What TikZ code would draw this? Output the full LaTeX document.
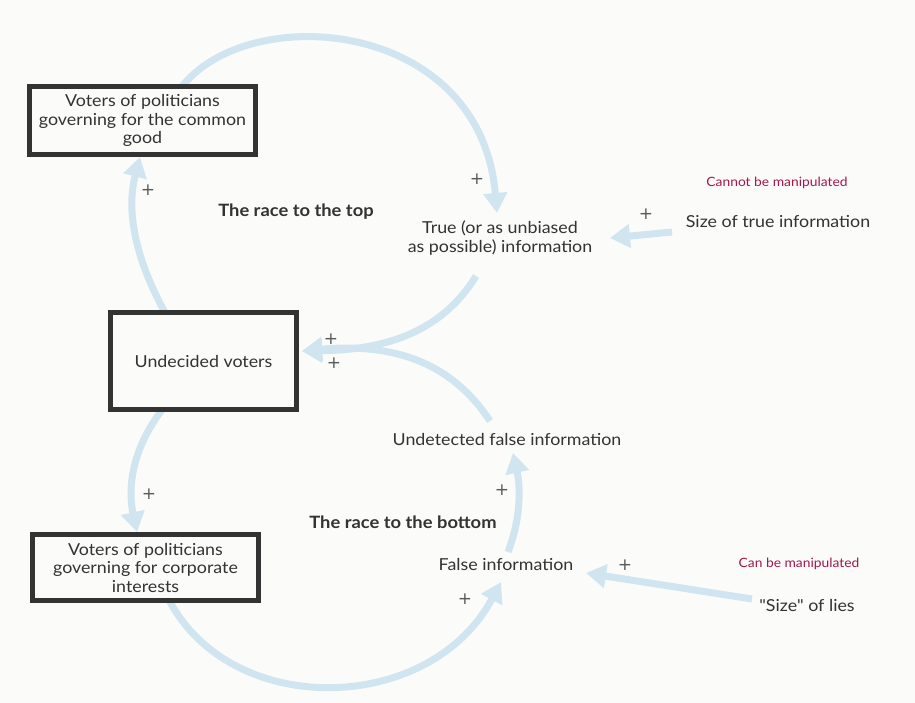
\documentclass[tikz,border=0pt]{standalone}
\usepackage{fontspec}
\setmainfont{Lato}[FakeStretch=1.08]
\newfontfamily\qfont{Lato}[FakeStretch=1.08]
\newfontfamily\plusfont{DejaVu Sans}
\usetikzlibrary{arrows.meta}
\definecolor{bgc}{HTML}{FBFBFA}
\definecolor{arrc}{HTML}{D0E5F0}
\definecolor{boxc}{HTML}{333333}
\definecolor{txtc}{HTML}{333333}
\definecolor{redc}{HTML}{A8154C}
\definecolor{plusc}{HTML}{5A5A5A}
\pgfdeclarelayer{background}
\pgfsetlayers{background,main}
\tikzset{
  vbox/.style={draw=boxc, line width=5pt, fill=bgc, text=txtc, align=center,
    font=\fontsize{16.5}{18.5}\selectfont, inner sep=0pt},
  lbl/.style={text=txtc, align=center, font=\fontsize{16.5}{19}\selectfont, inner sep=1pt},
  blbl/.style={text=txtc, align=center, font=\fontsize{17}{19}\selectfont\bfseries, inner sep=1pt},
  note/.style={text=redc, font=\fontsize{12.8}{14}\selectfont, inner sep=1pt},
  plus/.style={text=plusc, font=\plusfont\fontsize{17}{17}\selectfont, inner sep=0pt},
  flow/.style={draw=arrc, line width=7pt, -{Triangle[width=23pt,length=20pt]}},
}
\begin{document}
\begin{tikzpicture}[x=1pt,y=-1pt]
\useasboundingbox (0,0) rectangle (915,703);

% boxes
\node[vbox, minimum width=226pt, minimum height=68pt] (common) at (142.5,120.5)
  {Voters of politicians\\governing for the common\\good};
\node[vbox, minimum width=186pt, minimum height=97pt] (undecided) at (203.5,361)
  {Undecided voters};
\node[vbox, minimum width=226pt, minimum height=66pt] (corporate) at (145.5,567.5)
  {Voters of politicians\\governing for corporate\\interests};

% text nodes
\node[lbl] (true) at (500,238) {True (or as unbiased\\as possible) information};
\node[lbl] (sizetrue) at (778,222) {Size of true information};
\node[note] (cannot) at (777,183) {Cannot be manipulated};
\node[blbl] (top) at (296,212) {The race to the top};
\node[lbl] (undetected) at (507,439) {Undetected false information};
\node[blbl] (bottom) at (403,522) {The race to the bottom};
\node[lbl] (false) at (506,564) {False information};
\node[note] (can) at (799,564) {Can be manipulated};
\node[lbl] (lies) at (807,605) {{\qfont"}Size{\qfont"} of lies};

% plus signs
\node[plus] (p1) at (148,190) {+};
\node[plus] (p2) at (477,179) {+};
\node[plus] (p3) at (646,214) {+};
\node[plus] (p4) at (331,339) {+};
\node[plus] (p5) at (334,363) {+};
\node[plus] (p6) at (149,494) {+};
\node[plus] (p7) at (502,490) {+};
\node[plus] (p8) at (465,599) {+};
\node[plus] (p9) at (625,565) {+};

% connector end points
\coordinate (a1s) at (168,318);
\coordinate (a1e) at (140,157);
\coordinate (a2s) at (178,92);
\coordinate (a2e) at (497,213);
\coordinate (a3s) at (476,276);
\coordinate (a3e) at (302,351);
\coordinate (a4s) at (490,421);
\coordinate (a5s) at (165,406);
\coordinate (a5e) at (137,532);
\coordinate (a6s) at (168,598);
\coordinate (a6e) at (501,582);
\coordinate (a7s) at (508,552);
\coordinate (a7e) at (513,453);
\coordinate (a8s) at (672,232);
\coordinate (a8e) at (610,238);
\coordinate (a9s) at (752,599);
\coordinate (a9e) at (586,573);

\begin{pgfonlayer}{background}
\fill[bgc] (0,0) rectangle (915,703);
\draw[flow] (a1s) .. controls (138,265) and (125,215) .. (a1e);
\draw[flow] (a2s) .. controls (240,0) and (480,15) .. (a2e);
\draw[flow] (a3s) .. controls (440,335) and (380,350) .. (a3e);
\draw[flow] (a4s) .. controls (450,360) and (390,343) .. (a3e);
\draw[flow] (a5s) .. controls (130,450) and (128,490) .. (a5e);
\draw[flow] (a6s) .. controls (230,720) and (430,715) .. (a6e);
\draw[flow] (a7s) .. controls (522,515) and (520,485) .. (a7e);
\draw[flow] (a8s) -- (a8e);
\draw[flow] (a9s) -- (a9e);
\end{pgfonlayer}
\end{tikzpicture}
\end{document}
